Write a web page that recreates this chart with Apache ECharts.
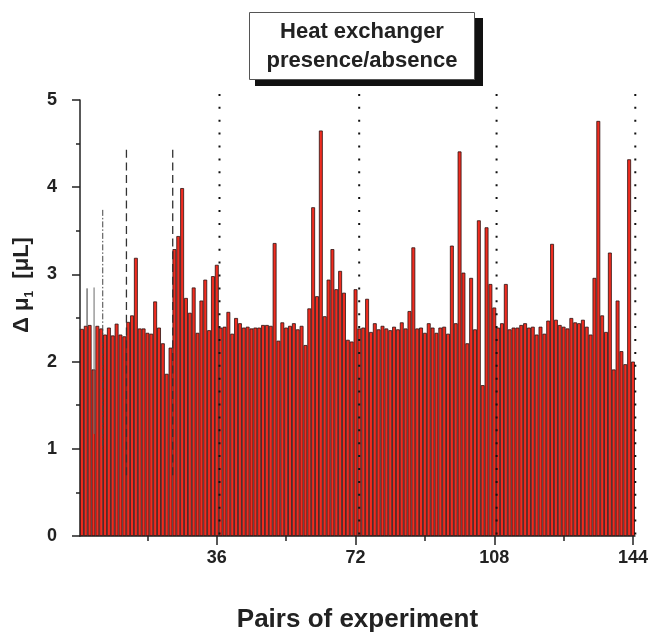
<!DOCTYPE html>
<html>
<head>
<meta charset="utf-8">
<script src="https://cdn.jsdelivr.net/npm/echarts@6/dist/echarts.min.js"></script>
<style>
  html, body { margin: 0; padding: 0; background: #ffffff; }
  #chart { width: 651px; height: 638px; }
</style>
</head>
<body>
<div id="chart"></div>
<script>
// ---- data ----
const titleLines = ['Heat exchanger', 'presence/absence'];
const xAxisTitle = 'Pairs of experiment';
const pairs = Array.from({ length: 144 }, (_, i) => String(i + 1));
const majorEvery = 36;
const minorEvery = 18;
const deltaMu = [
  2.375, 2.41, 2.42, 1.91, 2.41, 2.38, 2.31, 2.39, 2.30, 2.435,
  2.31, 2.29, 2.455, 2.53, 3.19, 2.38, 2.38, 2.33, 2.32, 2.69,
  2.39, 2.21, 1.86, 2.16, 3.29, 3.44, 3.99, 2.73, 2.56, 2.85,
  2.33, 2.70, 2.94, 2.36, 2.98, 3.11, 2.39, 2.40, 2.57, 2.32,
  2.50, 2.44, 2.39, 2.40, 2.38, 2.39, 2.39, 2.42, 2.42, 2.41,
  3.36, 2.24, 2.45, 2.39, 2.41, 2.44, 2.37, 2.41, 2.19, 2.61,
  3.77, 2.75, 4.65, 2.52, 2.94, 3.29, 2.83, 3.04, 2.79, 2.25,
  2.23, 2.83, 2.38, 2.39, 2.72, 2.34, 2.44, 2.37, 2.41, 2.38,
  2.36, 2.40, 2.37, 2.45, 2.38, 2.58, 3.31, 2.38, 2.39, 2.33,
  2.44, 2.39, 2.33, 2.39, 2.40, 2.32, 3.33, 2.44, 4.41, 3.02,
  2.21, 2.96, 2.37, 3.62, 1.73, 3.54, 2.89, 2.62, 2.39, 2.44,
  2.89, 2.37, 2.39, 2.39, 2.42, 2.44, 2.39, 2.40, 2.31, 2.40,
  2.32, 2.47, 3.35, 2.48, 2.42, 2.40, 2.38, 2.50, 2.45, 2.44,
  2.48, 2.40, 2.31, 2.96, 4.76, 2.53, 2.34, 3.25, 1.91, 2.70,
  2.12, 1.97, 4.32, 2.00
];
// reference / separator lines (x position in pair units, top and bottom values)
const refLineX      = [2.33, 4.15, 6.4, 12.55, 24.56, 36.7, 72.95, 108.6, 144.6];
const refLineTop    = [2.84, 2.85, 3.74, 4.43, 4.43, 5.07, 5.07, 5.07, 5.07];
const refLineBottom = [2.41, 1.17, 1.00, 0.67, 0.67, 0, 0, 0, 0];
const refLineKind   = ['solid', 'gray', 'dashdot', 'dashed', 'dashed', 'dotted', 'dotted', 'dotted', 'dotted'];
const yTicks = { min: 0, max: 5, step: 1 };

// ---- styles ----
const FONT = '"Liberation Sans", Arial, Helvetica, sans-serif';
const lineKinds = {
  solid:   { color: '#333333', width: 1,   dash: null },
  gray:    { color: '#6a6a6a', width: 1,   dash: null },
  dashdot: { color: '#444444', width: 1,   dash: [6, 2, 1.5, 2] },
  dashed:  { color: '#333333', width: 1.3, dash: [8, 4.7] },
  dotted:  { color: '#111111', width: 2,   dash: [2, 10.9] }
};

const chart = echarts.init(document.getElementById('chart'), null, { renderer: 'canvas' });

const option = {
  backgroundColor: '#ffffff',
  animation: false,
  title: {
    text: titleLines.join('\n'),
    left: 345,
    top: 12,
    textAlign: 'center',
    padding: [5, 17],
    backgroundColor: '#ffffff',
    borderColor: '#555555',
    borderWidth: 1,
    textStyle: {
      fontFamily: FONT,
      fontSize: 22,
      fontWeight: 'bold',
      color: '#222222',
      lineHeight: 29
    }
  },
  graphic: [
    {
      type: 'rect',
      left: 255,
      top: 18,
      shape: { width: 228, height: 68 },
      style: { fill: '#111111' },
      z: 1,
      silent: true
    }
  ],
  grid: { left: 80, right: 15.3, top: 100, bottom: 98.7, containLabel: false },
  xAxis: [
    {
      type: 'category',
      data: pairs,
      position: 'bottom',
      boundaryGap: true,
      name: xAxisTitle,
      nameLocation: 'middle',
      nameGap: 71,
      nameTextStyle: { fontFamily: FONT, fontSize: 26, fontWeight: 'bold', color: '#222222' },
      axisLine: { show: true, lineStyle: { color: '#222222', width: 1.5 } },
      axisTick: {
        show: true,
        alignWithLabel: true,
        length: 9,
        interval: (idx) => (idx + 1) % majorEvery === 0,
        lineStyle: { color: '#222222', width: 1.5 }
      },
      axisLabel: {
        show: true,
        interval: (idx) => (idx + 1) % majorEvery === 0,
        margin: 13,
        fontFamily: FONT,
        fontSize: 18,
        fontWeight: 'bold',
        color: '#222222'
      },
      splitLine: { show: false }
    },
    {
      type: 'category',
      data: pairs,
      position: 'bottom',
      boundaryGap: true,
      axisLine: { show: false },
      axisTick: {
        show: true,
        alignWithLabel: true,
        length: 5,
        interval: (idx) => (idx + 1) % majorEvery === minorEvery,
        lineStyle: { color: '#222222', width: 1.5 }
      },
      axisLabel: { show: false },
      splitLine: { show: false }
    },
    {
      type: 'value',
      min: 0.5,
      max: 144.5,
      show: false,
      splitLine: { show: false }
    }
  ],
  yAxis: {
    type: 'value',
    min: yTicks.min,
    max: yTicks.max,
    interval: yTicks.step,
    name: '{a|Δ μ}{s|1}{a|  [μL]}',
    nameLocation: 'middle',
    nameGap: 42,
    nameRotate: 90,
    nameTextStyle: {
      padding: [0, 0, 0, 66],
      rich: {
        a: { fontFamily: FONT, fontSize: 22, fontWeight: 'bold', color: '#222222', lineHeight: 28, verticalAlign: 'middle' },
        s: { fontFamily: FONT, fontSize: 12, fontWeight: 'bold', color: '#222222', lineHeight: 12, verticalAlign: 'bottom' }
      }
    },
    axisLine: { show: true, lineStyle: { color: '#222222', width: 1.5 } },
    axisTick: { show: true, length: 8, lineStyle: { color: '#222222', width: 1.5 } },
    minorTick: { show: true, splitNumber: 2, length: 4, lineStyle: { color: '#222222', width: 1.5 } },
    axisLabel: { margin: 23, fontFamily: FONT, fontSize: 18, fontWeight: 'bold', color: '#222222' },
    splitLine: { show: false },
    minorSplitLine: { show: false }
  },
  series: [
    {
      type: 'bar',
      xAxisIndex: 0,
      yAxisIndex: 0,
      data: deltaMu,
      barCategoryGap: '0%',
      barWidth: '100%',
      itemStyle: { color: '#f02c20', borderColor: '#2b1210', borderWidth: 0.8 },
      silent: true,
      z: 2
    },
    {
      type: 'custom',
      xAxisIndex: 2,
      yAxisIndex: 0,
      clip: false,
      silent: true,
      z: 5,
      data: refLineX.map((x, i) => [x, refLineTop[i], refLineBottom[i], i]),
      encode: { x: 0, y: [1, 2] },
      renderItem: function (params, api) {
        const k = lineKinds[refLineKind[api.value(3)]];
        const p1 = api.coord([api.value(0), api.value(1)]);
        const p2 = api.coord([api.value(0), api.value(2)]);
        return {
          type: 'line',
          shape: { x1: p1[0], y1: p1[1], x2: p2[0], y2: p2[1] },
          style: { stroke: k.color, lineWidth: k.width, lineDash: k.dash, fill: null }
        };
      }
    }
  ]
};

chart.setOption(option);
</script>
</body>
</html>
